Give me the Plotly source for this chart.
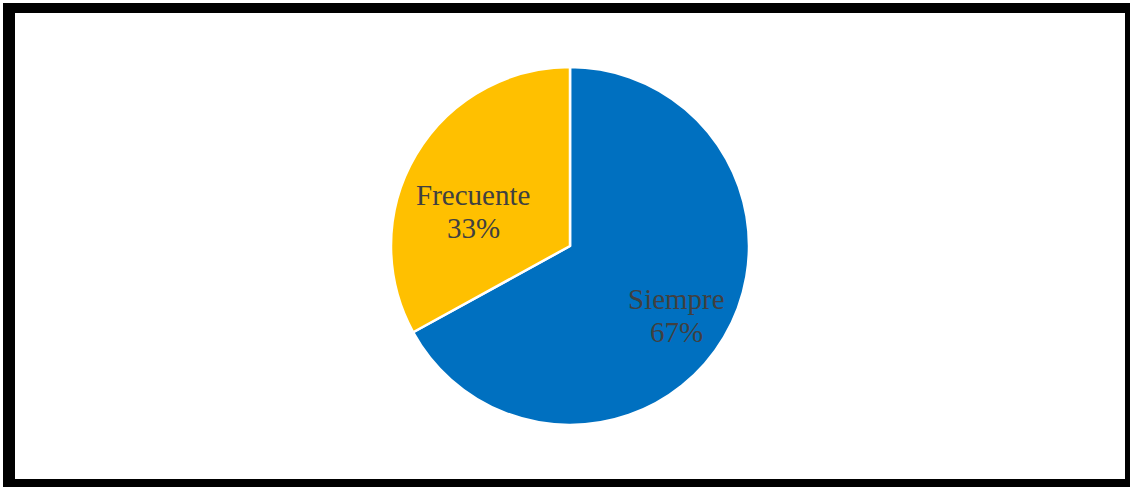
import math
import plotly.graph_objects as go

# Response frequency shares
categories = ["Siempre", "Frecuente"]
shares = [67, 33]
slice_colors = ["#0070C0", "#FFC000"]

W, H = 1130, 487

# Pie placement in pixels (centre and radius)
CX, CY, R = 570, 246, 179

# Label placement per slice: fraction of radius and angular nudge (degrees)
label_radius = [0.71, 0.575]
label_nudge = [2.8, -10.8]

fig = go.Figure(
    go.Pie(
        labels=categories,
        values=shares,
        sort=False,
        direction="clockwise",
        rotation=0,
        marker=dict(colors=slice_colors, line=dict(color="white", width=2.5)),
        textinfo="none",
        hoverinfo="label+percent",
        showlegend=False,
        domain=dict(x=[(CX - R) / W, (CX + R) / W], y=[(H - CY - R) / H, (H - CY + R) / H]),
    )
)

# Category name and percentage centred inside each slice
total = sum(shares)
annotations = []
start = 0.0
for name, val, rf, nudge in zip(categories, shares, label_radius, label_nudge):
    mid = (start + val / 2) / total * 360 + nudge
    start += val
    px = CX + rf * R * math.sin(math.radians(mid))
    py = CY - rf * R * math.cos(math.radians(mid))
    pct = round(val / total * 100)
    for text, shift in ((name, 16.5), (f"{pct}%", -16.5)):
        annotations.append(
            dict(
                x=px / W, y=1 - py / H, xref="paper", yref="paper",
                text=text, showarrow=False, xanchor="center", yanchor="middle",
                yshift=shift,
                font=dict(family="Liberation Serif", size=29, color="#404040"),
            )
        )


def px_rect(x0, y0, x1, y1, color):
    return dict(
        type="rect", xref="paper", yref="paper",
        x0=x0 / W, x1=x1 / W, y0=1 - y1 / H, y1=1 - y0 / H,
        fillcolor=color, line=dict(width=0), layer="below",
    )


# Thick black frame around the chart area
fig.update_layout(
    width=W,
    height=H,
    margin=dict(l=0, r=0, t=0, b=0),
    paper_bgcolor="white",
    plot_bgcolor="white",
    annotations=annotations,
    shapes=[
        px_rect(3, 3, 1130, 487, "black"),
        px_rect(15, 13, 1125, 479, "white"),
    ],
)

fig.write_html("out.html")
